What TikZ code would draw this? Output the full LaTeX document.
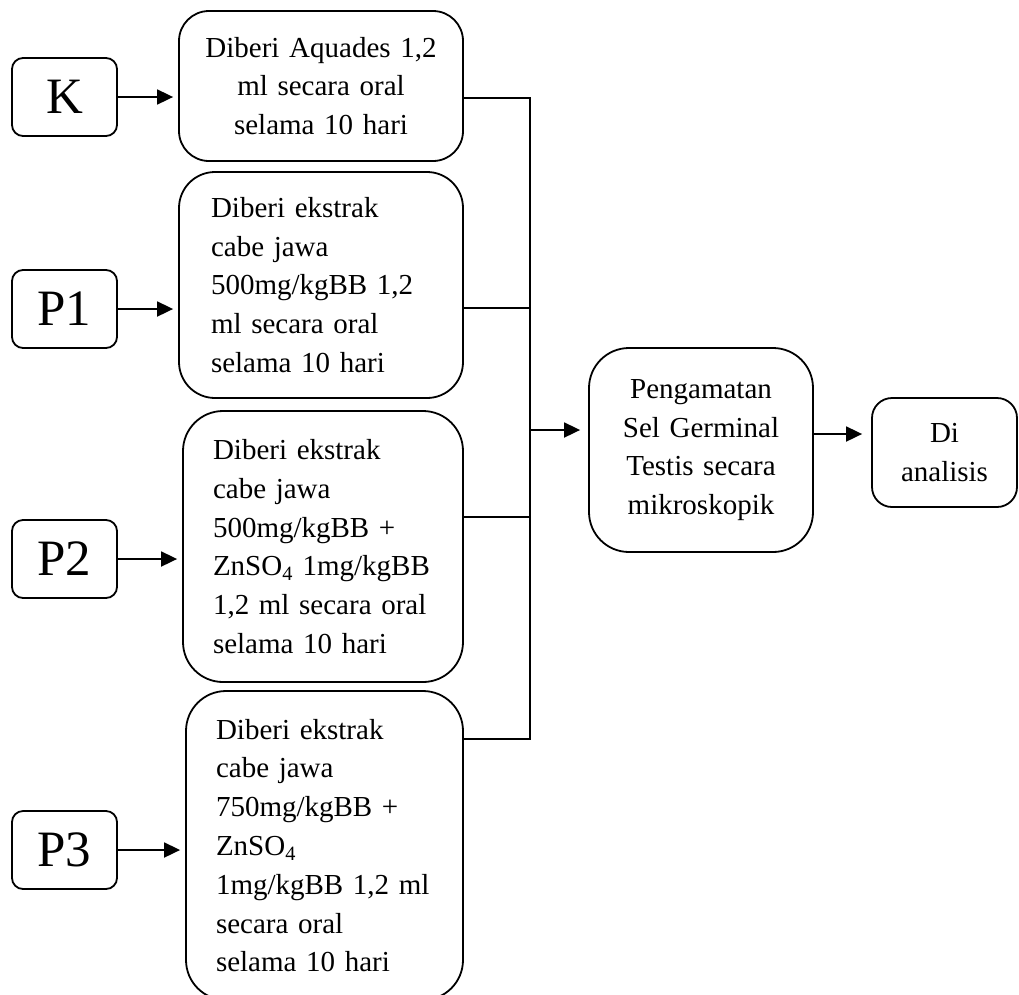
\documentclass[tikz,border=0pt]{standalone}
\usepackage{fontspec}
\setmainfont{Liberation Serif}
\usetikzlibrary{arrows.meta}
\begin{document}
\begin{tikzpicture}[x=1pt,y=-1pt,
  txt/.style={font=\fontsize{29}{38.8}\selectfont},
  lbl/.style={draw, line width=1.8pt, rounded corners=11pt, minimum width=105pt, minimum height=78pt, inner sep=0pt, font=\fontsize{51}{51}\selectfont},
  tbox/.style={draw, line width=1.8pt, rounded corners=#1, inner ysep=0pt, txt},
  arr/.style={line width=1.8pt, -{Triangle[length=16pt,width=15pt]}},
  conn/.style={line width=1.8pt}]
\useasboundingbox (0,0) rectangle (1019,994);

% label boxes
\node[lbl] (K)  at (64.5,97)  {K};
\node[lbl] (P1) at (64.5,309) {P1};
\node[lbl] (P2) at (64.5,559) {P2};
\node[lbl] (P3) at (64.5,850) {P3};

% treatment boxes
\node[tbox=30pt, minimum width=284pt, minimum height=150pt, inner xsep=8pt, text width=268pt, align=center] (b1) at (321,86)
  {Diberi Aquades 1,2\\ ml secara oral\\ selama 10 hari};
\node[tbox=36pt, minimum width=284pt, minimum height=226pt, inner xsep=32pt, text width=220pt, align=left] (b2) at (321,285)
  {Diberi ekstrak\\ cabe jawa\\ 500mg/kgBB 1,2\\ ml secara oral\\ selama 10 hari};
\node[tbox=40pt, minimum width=280pt, minimum height=271pt, inner xsep=30pt, text width=220pt, align=left] (b3) at (323,546.5)
  {Diberi ekstrak\\ cabe jawa\\ 500mg/kgBB +\\ ZnSO\textsubscript{4} 1mg/kgBB\\ 1,2 ml secara oral\\ selama 10 hari};
\node[tbox=40pt, minimum width=277pt, minimum height=309pt, inner xsep=30pt, text width=217pt, align=left] (b4) at (324.5,845.5)
  {Diberi ekstrak\\ cabe jawa\\ 750mg/kgBB +\\ ZnSO\textsubscript{4}\\ 1mg/kgBB 1,2 ml\\ secara oral\\ selama 10 hari};

% observation and analysis
\node[tbox=40pt, minimum width=224pt, minimum height=204pt, inner xsep=5pt, text width=214pt, align=center] (peng) at (701,450)
  {Pengamatan\\ Sel Germinal\\ Testis secara\\ mikroskopik};
\node[tbox=20pt, minimum width=145pt, minimum height=109pt, inner xsep=5pt, text width=135pt, align=center] (di) at (944.5,452.5)
  {Di\\ analisis};

% junction points
\coordinate (jA) at (530,98);
\coordinate (jB) at (530,308);
\coordinate (jC) at (530,517);
\coordinate (jD) at (530,739);
\coordinate (jM) at (530,430);
\coordinate (jE) at (840,434);

% arrows from labels
\draw[arr, shorten >=5pt] (K.east)  -- (K.east -| b1.west);
\draw[arr, shorten >=5pt] (P1.east) -- (P1.east -| b2.west);
\draw[arr, shorten >=5pt] (P2.east) -- (P2.east -| b3.west);
\draw[arr, shorten >=5pt] (P3.east) -- (P3.east -| b4.west);

% collecting lines
\draw[conn] (b1.east |- jA) -- (jA) -- (jD) -- (b4.east |- jD);
\draw[conn] (b2.east |- jB) -- (jB);
\draw[conn] (b3.east |- jC) -- (jC);

% to observation and analysis
\draw[arr, shorten >=8pt] (jM) -- (jM -| peng.west);
\draw[arr, shorten >=9pt] (peng.east |- jE) -- (jE -| di.west);
\end{tikzpicture}
\end{document}
